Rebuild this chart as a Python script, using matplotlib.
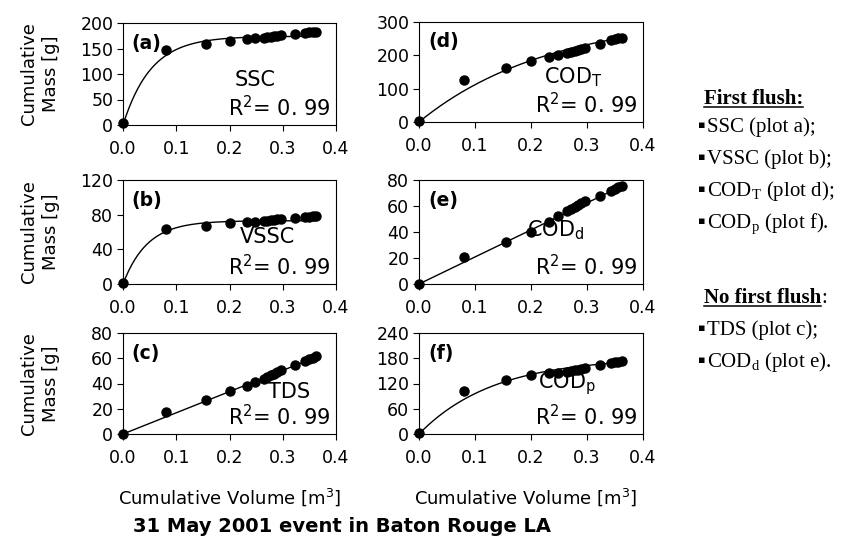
import numpy as np
import matplotlib
matplotlib.use("Agg")
import matplotlib.pyplot as plt
from matplotlib.lines import Line2D

plt.rcParams['font.family'] = ['DejaVu Sans']
plt.rcParams['mathtext.fontset'] = 'custom'
plt.rcParams['mathtext.rm'] = 'Liberation Serif'
plt.rcParams['mathtext.sf'] = 'DejaVu Sans'
plt.rcParams['mathtext.it'] = 'DejaVu Sans:italic'

# ---- data ----
volume = [0.0, 0.08, 0.155, 0.200, 0.232, 0.248, 0.264, 0.271, 0.278, 0.284,
          0.290, 0.297, 0.323, 0.342, 0.350, 0.356, 0.362]
mass_ssc = [3, 148, 159, 165, 168, 170, 171, 172, 173, 174, 175, 176, 178, 181, 182, 183, 183]
mass_vssc = [1, 63, 67, 70, 71, 72, 72.5, 73, 73.5, 74, 74.5, 75, 76, 77, 77.5, 78, 78]
mass_tds = [0, 17.5, 27, 34, 38, 41, 43.5, 45, 46.5, 47.5, 49, 50.5, 54.5, 58, 59.5, 60.5, 61.5]
mass_codt = [3, 125, 163, 183, 195, 201, 207, 210, 213, 216, 219, 223, 235, 245, 249, 251, 253]
mass_codd = [0, 21, 32, 40, 48, 52.5, 56, 57.5, 59, 60.5, 62, 63.5, 68, 71.5, 73, 74.5, 75.5]
mass_codp = [3, 101, 129, 140, 144, 145, 148, 149, 151, 152, 154, 156, 163, 169, 171, 172, 173]

# fitted model parameters: exponential M = a(1-exp(-kV)) or linear M = s*V
fit_ssc = ('exp', 174, 19)
fit_vssc = ('exp', 73, 22)
fit_tds = ('lin', 168)
fit_codt = ('exp', 320, 4.3)
fit_codd = ('lin', 208)
fit_codp = ('exp', 182, 7.5)

x_ticks = [0.0, 0.1, 0.2, 0.3, 0.4]

W, H = 842, 544
fig = plt.figure(figsize=(W / 100, H / 100), dpi=100)

def add_ax(left, top, right, bottom):
    return fig.add_axes([left / W, 1 - bottom / H, (right - left) / W, (bottom - top) / H])

panels = [
    # left, top, right, bottom, letter, name, mass, fit, yticks, name pos
    (123, 23, 336, 125, '(a)', 'SSC', mass_ssc, fit_ssc, [0, 50, 100, 150, 200], (0.62, 0.44)),
    (419, 22, 643, 122, '(d)', r'COD$_\mathsf{T}$', mass_codt, fit_codt, [0, 100, 200, 300], (0.69, 0.45)),
    (123, 180, 336, 284, '(b)', 'VSSC', mass_vssc, fit_vssc, [0, 40, 80, 120], (0.68, 0.45)),
    (419, 180, 643, 284, '(e)', r'COD$_\mathsf{d}$', mass_codd, fit_codd, [0, 20, 40, 60, 80], (0.61, 0.52)),
    (123, 333, 336, 434, '(c)', 'TDS', mass_tds, fit_tds, [0, 20, 40, 60, 80], (0.78, 0.42)),
    (419, 333, 643, 434, '(f)', r'COD$_\mathsf{p}$', mass_codp, fit_codp, [0, 60, 120, 180, 240], (0.66, 0.5)),
]

vv = np.linspace(0, max(volume), 200)
for i, (l, t, r, b, letter, name, mass, fit, yt, npos) in enumerate(panels):
    ax = add_ax(l, t, r, b)
    if fit[0] == 'exp':
        yy = fit[1] * (1 - np.exp(-fit[2] * vv))
    else:
        yy = fit[1] * vv
    ax.plot(vv, yy, color='black', lw=1.0)
    ax.plot(volume, mass, 'o', color='black', ms=6.5, clip_on=False, zorder=3)
    ax.set_xlim(0, 0.4)
    ax.set_ylim(yt[0], yt[-1])
    ax.set_xticks(x_ticks)
    ax.set_xticklabels([f'{v:.1f}' for v in x_ticks])
    ax.set_yticks(yt)
    ax.tick_params(direction='out', length=4, labelsize=12.5, width=0.8, pad=3, colors='black')
    ax.tick_params(axis='x', pad=7)
    for s in ax.spines.values():
        s.set_linewidth(0.8)
    ax.text(0.04, 0.8, letter, transform=ax.transAxes, fontsize=13.5, fontweight='bold',
            va='center', ha='left')
    ax.text(npos[0], npos[1], name, transform=ax.transAxes, fontsize=15, va='center', ha='center')
    ax.text(0.975, 0.17, r'R$^\mathsf{2}$= 0. 99', transform=ax.transAxes, fontsize=15,
            va='center', ha='right')
    if i % 2 == 0:
        ax.set_ylabel('Cumulative\nMass [g]', fontsize=13, linespacing=1.3, va='center')
        ax.yaxis.set_label_coords((40 - l) / (r - l), 0.5)
    if i >= 4:
        ax.set_xlabel(r'Cumulative Volume [m$^\mathsf{3}$]', fontsize=13)
        cx = 230 if i == 4 else 526
        ax.xaxis.set_label_coords((cx - l) / (r - l), (b - 497) / (b - t))
        ax.xaxis.label.set_va('center')

fig.text(342 / W, 1 - 527 / H, '31 May 2001 event in Baton Rouge LA',
         fontsize=14, fontweight='bold', ha='center', va='center')

# right-hand notes
serif = ['Liberation Serif', 'DejaVu Serif']
FS = 15
renderer = fig.canvas.get_renderer()

h1 = fig.text(704 / W, 1 - 104 / H, 'First flush:', family=serif, fontsize=FS,
              fontweight='bold', va='baseline', ha='left')
items1 = ['SSC (plot a);', 'VSSC (plot b);', r'COD$_\mathrm{T}$ (plot d);', r'COD$_\mathrm{p}$ (plot f).']
for k, s in enumerate(items1):
    y = 132 + 32 * k
    fig.text(698 / W, 1 - (y - 4) / H, '\u25aa', family=['DejaVu Sans'], fontsize=8,
             va='baseline', ha='left')
    fig.text(707 / W, 1 - y / H, s, family=serif, fontsize=FS, va='baseline', ha='left')

h2 = fig.text(704 / W, 1 - 303 / H, 'No first flush', family=serif, fontsize=FS,
              fontweight='bold', va='baseline', ha='left')
bb2 = h2.get_window_extent(renderer)
fig.text(bb2.x1 / W, 1 - 303 / H, ':', family=serif, fontsize=FS, va='baseline', ha='left')
items2 = ['TDS (plot c);', r'COD$_\mathrm{d}$ (plot e).']
for k, s in enumerate(items2):
    y = 335 + 32 * k
    fig.text(698 / W, 1 - (y - 4) / H, '\u25aa', family=['DejaVu Sans'], fontsize=8,
             va='baseline', ha='left')
    fig.text(707 / W, 1 - y / H, s, family=serif, fontsize=FS, va='baseline', ha='left')

for h, yb in ((h1, 104), (h2, 303)):
    bb = h.get_window_extent(renderer)
    yl = 1 - (yb + 3) / H
    fig.add_artist(Line2D([bb.x0 / W, bb.x1 / W], [yl, yl], color='black', lw=1.1))

fig.savefig('out.png', dpi=100)
